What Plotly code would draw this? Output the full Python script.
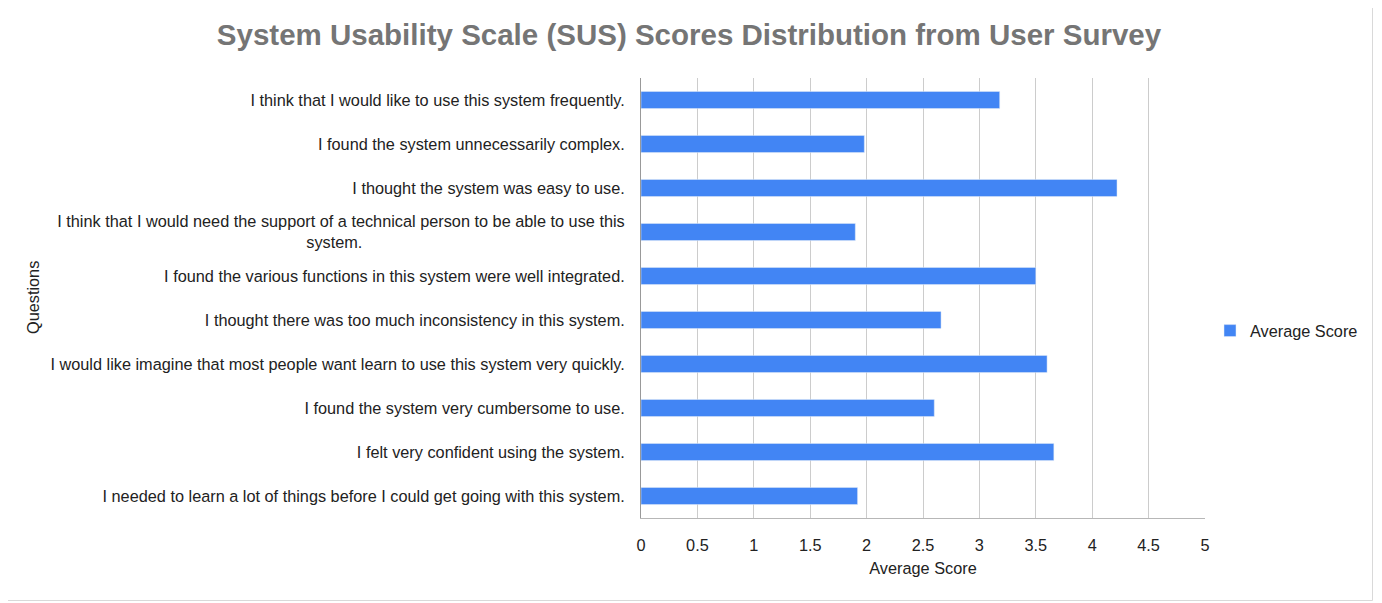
import plotly.graph_objects as go

questions = [
    "I think that I would like to use this system frequently.",
    "I found the system unnecessarily complex.",
    "I thought the system was easy to use.",
    "I think that I would need the support of a technical person to be able to use this<br>system." + "\u00a0" * 58,
    "I found the various functions in this system were well integrated.",
    "I thought there was too much inconsistency in this system.",
    "I would like imagine that most people want learn to use this system very quickly.",
    "I found the system very cumbersome to use.",
    "I felt very confident using the system.",
    "I needed to learn a lot of things before I could get going with this system.",
]
scores = [3.18, 1.98, 4.22, 1.90, 3.50, 2.66, 3.60, 2.60, 3.66, 1.92]
tick_vals = [0, 0.5, 1, 1.5, 2, 2.5, 3, 3.5, 4, 4.5, 5]
tick_text = ["0", "0.5", "1", "1.5", "2", "2.5", "3", "3.5", "4", "4.5", "5"]

OFF = 8  # page body margin
W, H = 1382 - OFF, 603 - OFF
# target page coordinates of plot area
L, R, T, B = 641 - OFF, 1205 - OFF, 78 - OFF, 518 - OFF


def px(x):
    return (x - OFF - L) / (R - L)


def py(y):
    return (B - (y - OFF)) / (B - T)


fig = go.Figure()
fig.add_trace(go.Bar(
    x=scores, y=questions, orientation="h", name="Average Score",
    marker=dict(color="#4285F4"), width=0.39, showlegend=True,
))

fig.update_layout(
    width=W, height=H,
    margin=dict(l=L, r=W - R, t=T, b=H - B, pad=0),
    paper_bgcolor="white", plot_bgcolor="white",
    font=dict(family="Liberation Sans, Arial, sans-serif", size=16.3, color="#222222"),
    title=dict(text="<b>System Usability Scale (SUS) Scores Distribution from User Survey</b>",
               x=(689 - OFF) / W, xanchor="center", y=1 - (35 - OFF) / H, yanchor="middle",
               font=dict(size=29.5, color="#757575")),
    xaxis=dict(range=[0, 5], tickvals=tick_vals, ticktext=tick_text,
               showgrid=True, gridcolor="#cccccc", gridwidth=1,
               showline=True, linecolor="#b7b7b7", zeroline=False,
               ticks="", ticklabelstandoff=12,
               title=dict(text="Average Score", font=dict(size=16.3, color="#222222"), standoff=10)),
    yaxis=dict(autorange="reversed", showgrid=False, showline=True, linecolor="#999999",
               ticks="", ticklabelstandoff=12, zeroline=False),
    legend=dict(x=px(1210), y=py(331), xanchor="left", yanchor="middle",
                font=dict(size=16.3, color="#222222"), itemwidth=30, bgcolor="rgba(0,0,0,0)"),
    bargap=0.61,
    showlegend=True,
)

fig.add_annotation(text="Questions", textangle=-90, x=px(33), y=py(298),
                   xref="paper", yref="paper", showarrow=False,
                   xanchor="center", yanchor="middle",
                   font=dict(size=16.3, color="#222222"))

fig.add_shape(type="rect", xref="paper", yref="paper",
              x0=px(3.5), x1=px(1372.5), y0=py(600.5), y1=py(0.5),
              line=dict(color="#d9d9d9", width=1), layer="below")

fig.write_html("out.html")
